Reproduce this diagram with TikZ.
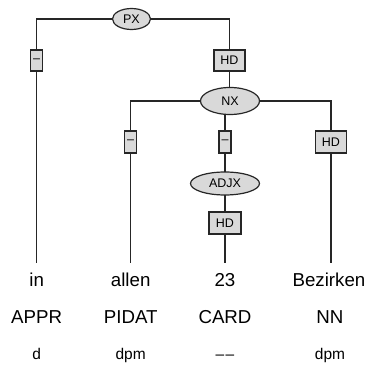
\documentclass[tikz,border=0pt]{standalone}
\usepackage{fontspec}
\setmainfont{Liberation Sans}
\usetikzlibrary{shapes.geometric}
\definecolor{boxgray}{HTML}{D9D9D9}
\tikzset{
  edge/.style={line width=1.3pt, black!85},
  cat/.style={ellipse, draw=black!85, line width=1.2pt, fill=boxgray, inner sep=0pt,
              font=\fontsize{12.5}{14}\selectfont},
  lab/.style={rectangle, draw=black!85, line width=1.2pt, fill=boxgray, inner sep=0pt,
              minimum height=21pt, font=\fontsize{12.5}{14}\selectfont},
  word/.style={anchor=base, inner sep=0pt, font=\fontsize{18.7}{20}\selectfont},
  tag/.style={anchor=base, inner sep=0pt, font=\fontsize{18.7}{20}\selectfont},
  morph/.style={anchor=base, inner sep=0pt, font=\fontsize{15.5}{17}\selectfont},
}
\begin{document}
\begin{tikzpicture}[x=1pt,y=-1pt]
\useasboundingbox (0,0) rectangle (368,366);
% nonterminals (named, used as edge ends)
\path (131.5,19) node[ellipse, minimum width=38pt, minimum height=21pt, inner sep=0pt] (PX) {};
\path (230,101) node[ellipse, minimum width=59pt, minimum height=27pt, inner sep=0pt] (NX) {};
\path (225,183.5) node[ellipse, minimum width=69pt, minimum height=23pt, inner sep=0pt] (ADJX) {};
% line end points above the words
\coordinate (in-top) at (36.7,263);
\coordinate (allen-top) at (130.7,263);
\coordinate (d23-top) at (225,263);
\coordinate (bez-top) at (331,263);
\coordinate (nxin) at (229.5,19);
\coordinate (nxout) at (225,101);
% edges
\draw[edge] (PX.west) -| (in-top);
\draw[edge] (PX.east) -| (NX.north -| nxin);
\draw[edge] (NX.west) -| (allen-top);
\draw[edge] (NX.east) -| (bez-top);
\draw[edge] (NX.south -| nxout) -- (ADJX.north);
\draw[edge] (ADJX.south) -- (d23-top);
% visible nonterminals drawn over the edges
\node[cat, minimum width=38pt, minimum height=21pt] (PXv) at (PX) {PX};
\node[cat, minimum width=59pt, minimum height=27pt] (NXv) at (NX) {NX};
\node[cat, minimum width=69pt, minimum height=23pt] (ADJXv) at (ADJX) {ADJX};
% edge labels
\node[lab, minimum width=12pt] (l1) at (36.7,60.5) {–};
\node[lab, minimum width=31pt] (l2) at (229.5,60.5) {HD};
\node[lab, minimum width=12pt, minimum height=22pt] (l3) at (130.7,142) {–};
\node[lab, minimum width=12pt, minimum height=22pt] (l4) at (225,142) {–};
\node[lab, minimum width=31pt, minimum height=22pt] (l5) at (331,142) {HD};
\node[lab, minimum width=32pt, minimum height=22pt] (l6) at (225,223) {HD};
% terminals
\node[word] (w1) at (36.7,286.7) {in};
\node[word] (w2) at (130.7,286.7) {allen};
\node[word] (w3) at (225,286.7) {23};
\node[word] (w4) at (329,286.7) {Bezirken};
\node[tag] (t1) at (36.7,323.3) {APPR};
\node[tag] (t2) at (130.7,323.3) {PIDAT};
\node[tag] (t3) at (225,323.3) {CARD};
\node[tag] (t4) at (330,323.3) {NN};
\node[morph] (m1) at (36.7,359.3) {d};
\node[morph] (m2) at (130.7,359.3) {dpm};
\node[morph] (m3) at (225,359.3) {–\kern1.5pt–};
\node[morph] (m4) at (330,359.3) {dpm};
\end{tikzpicture}
\end{document}
